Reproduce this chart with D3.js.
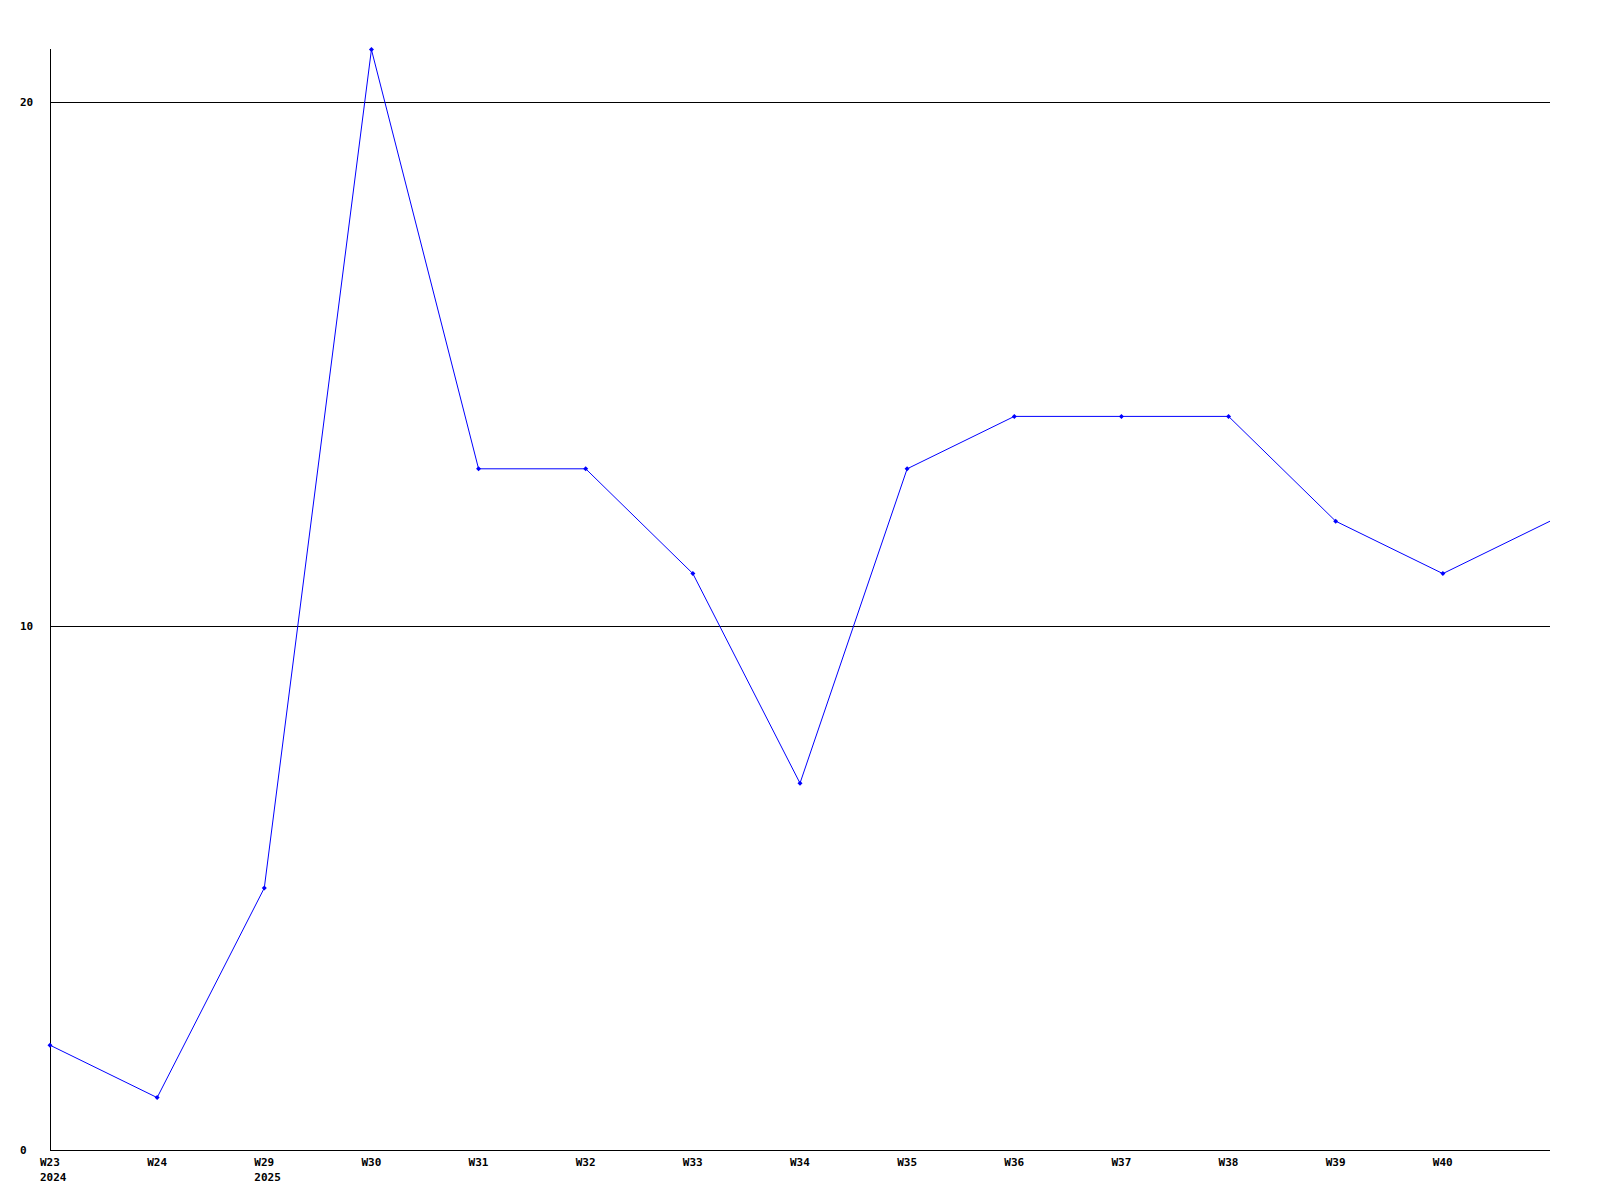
<!DOCTYPE html>
<html>
<head>
<meta charset="utf-8">
<script src="https://cdn.jsdelivr.net/npm/d3@7"></script>
<style>
  body { margin: 0; background: #fff; }
  text { font-family: "DejaVu Sans Mono", monospace; font-weight: bold; font-size: 11px; fill: #000; }
</style>
</head>
<body>
<div id="chart"></div>
<script>
// weeks (last point has no label)
const weeks = ['W23', 'W24', 'W29', 'W30', 'W31', 'W32', 'W33', 'W34', 'W35', 'W36', 'W37', 'W38', 'W39', 'W40', ''];
const years = ['2024', '', '2025', '', '', '', '', '', '', '', '', '', '', '', ''];
const values = [2, 1, 5, 21, 13, 13, 11, 7, 13, 14, 14, 14, 12, 11, 12];
const yTicks = [0, 10, 20];

const width = 1600, height = 1200;
const plotLeft = 50, plotRight = 1550, plotTop = 50, plotBottom = 1150;

const svg = d3.select('#chart')
  .append('svg')
  .attr('width', width)
  .attr('height', height);

const x = d3.scaleLinear()
  .domain([0, weeks.length - 1])
  .range([plotLeft, plotRight]);

const y = d3.scaleLinear()
  .domain([0, 10])
  .range([plotBottom, plotBottom - 524]);

// grid lines
svg.selectAll('.grid')
  .data(yTicks.filter(d => d > 0))
  .enter()
  .append('line')
  .attr('x1', plotLeft).attr('x2', plotRight)
  .attr('y1', d => Math.round(y(d)) + 0.5)
  .attr('y2', d => Math.round(y(d)) + 0.5)
  .attr('stroke', '#000')
  .attr('stroke-width', 1);

// axes lines
svg.append('line')
  .attr('x1', plotLeft + 0.5).attr('x2', plotLeft + 0.5)
  .attr('y1', plotTop - 1).attr('y2', plotBottom)
  .attr('stroke', '#000');
svg.append('line')
  .attr('x1', plotLeft).attr('x2', plotRight)
  .attr('y1', plotBottom + 0.5).attr('y2', plotBottom + 0.5)
  .attr('stroke', '#000');

// y labels
svg.selectAll('.ylab')
  .data(yTicks)
  .enter()
  .append('text')
  .attr('x', 20)
  .attr('y', d => y(d) + 4)
  .text(d => d);

// x labels
svg.selectAll('.xlab')
  .data(weeks)
  .enter()
  .append('text')
  .attr('x', (d, i) => x(i) - 10)
  .attr('y', plotBottom + 16)
  .text(d => d);

svg.selectAll('.yearlab')
  .data(years)
  .enter()
  .append('text')
  .attr('x', (d, i) => x(i) - 10)
  .attr('y', plotBottom + 31)
  .text(d => d);

// line
const line = d3.line()
  .x((d, i) => x(i))
  .y(d => y(d));

svg.append('path')
  .datum(values)
  .attr('d', line)
  .attr('fill', 'none')
  .attr('stroke', '#0000ff')
  .attr('stroke-width', 1);

// markers (the open last point has none)
svg.selectAll('.pt')
  .data(values.slice(0, -1))
  .enter()
  .append('path')
  .attr('d', (d, i) => {
    const cx = x(i), cy = y(d);
    return `M${cx},${cy - 2.5}L${cx + 2.5},${cy}L${cx},${cy + 2.5}L${cx - 2.5},${cy}Z`;
  })
  .attr('fill', '#0000ff');
</script>
</body>
</html>
